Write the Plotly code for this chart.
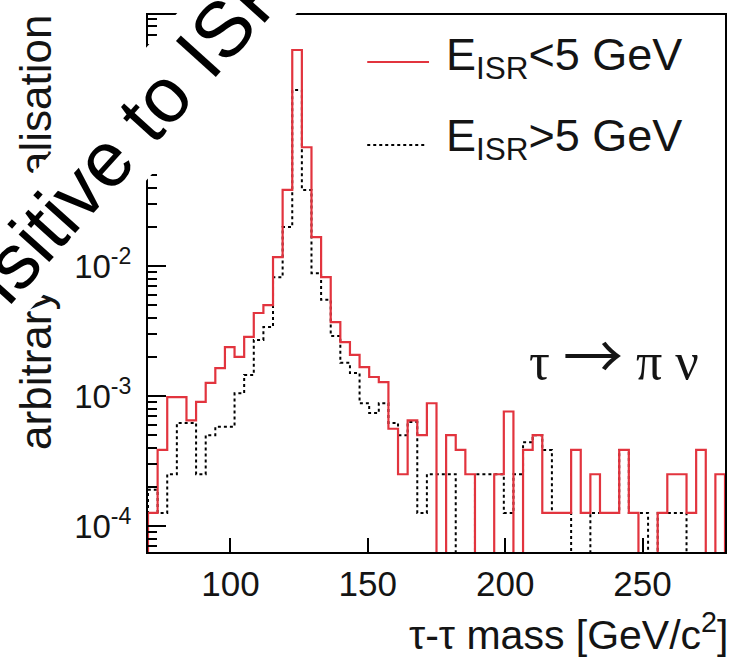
import plotly.graph_objects as go

# ---------------- data ----------------
bin_low = 70.0
bin_width = 3.5
n_bins = 60
mass_edges = [bin_low + bin_width * i for i in range(n_bins + 1)]

# E_ISR < 5 GeV  (solid red)
isr_low = [1.26e-4, 3.85e-4, 9.8e-4, 9.8e-4, 6.5e-4, 9.0e-4, 1.26e-3, 1.64e-3, 2.38e-3, 2.0e-3,
           2.85e-3, 4.35e-3, 5.0e-3, 1.17e-2, 3.85e-2, 0.459, 0.082, 1.67e-2, 8.2e-3, 3.7e-3,
           2.6e-3, 2.07e-3, 1.67e-3, 1.4e-3, 1.28e-3, 5.6e-4, 2.5e-4, 6.5e-4, 5.0e-4, 8.8e-4,
           0, 5.0e-4, 3.85e-4, 2.5e-4, 0, 0, 2.5e-4, 7.6e-4, 0, 3.85e-4,
           5.0e-4, 1.26e-4, 1.26e-4, 1.26e-4, 3.85e-4, 1.26e-4, 2.5e-4, 1.26e-4, 1.26e-4, 3.85e-4,
           1.26e-4, 0, 0, 1.26e-4, 2.5e-4, 2.5e-4, 1.26e-4, 3.85e-4, 0, 2.5e-4]

# E_ISR > 5 GeV  (dotted black)
isr_high = [1.9e-4, 1.26e-4, 2.5e-4, 6.2e-4, 6.2e-4, 2.5e-4, 5.0e-4, 5.8e-4, 5.8e-4, 1.05e-3,
            1.45e-3, 2.7e-3, 3.4e-3, 8.2e-3, 2.0e-2, 0.226, 3.85e-2, 8.8e-3, 5.5e-3, 2.9e-3,
            1.8e-3, 1.5e-3, 8.8e-4, 7.4e-4, 8.8e-4, 6.2e-4, 5.0e-4, 6.3e-4, 1.26e-4, 2.5e-4,
            2.5e-4, 2.5e-4, 0, 0, 2.5e-4, 2.5e-4, 2.5e-4, 1.26e-4, 2.5e-4, 4.4e-4,
            5.0e-4, 3.85e-4, 1.26e-4, 1.26e-4, 0, 0, 1.26e-4, 1.26e-4, 1.26e-4, 3.85e-4,
            1.26e-4, 1.26e-4, 0, 1.26e-4, 1.26e-4, 1.26e-4, 0, 0, 0, 0]

x_ticks = [100, 150, 200, 250]
y_ticks = [1e-4, 1e-3, 1e-2, 1e-1]
y_ticktext = ["10<sup>-4</sup>", "10<sup>-3</sup>", "10<sup>-2</sup>", "10<sup>-1</sup>"]
legend_labels = ["E<sub>ISR</sub>&lt;5 GeV", "E<sub>ISR</sub>&gt;5 GeV"]
x_title = "τ-τ mass [GeV/c<sup>2</sup>]"
y_title = "arbitrary normalisation"
channel_label = "τ <span style='font-family:Noto Sans CJK JP;font-size:60px'>→</span> π ν"
overlay_label = "Sensitive to ISR"

# ---------------- helpers ----------------
FLOOR = 1e-7  # empty bins drop below the axis like ROOT


def outline(vals):
    xs = [mass_edges[0]] + mass_edges[:-1] + [mass_edges[-1], mass_edges[-1]]
    v = [max(a, FLOOR) for a in vals]
    ys = [FLOOR] + v + [v[-1], FLOOR]
    return xs, ys


RED = "rgb(226,52,62)"
INK = "#141414"
SANS = "Liberation Sans, Arial, Helvetica, sans-serif"
SERIF = "Liberation Serif, Times New Roman, serif"

W, H = 732, 657
L, R, T, B = 148, 5, 15, 105
PW, PH = W - L - R, H - T - B


def px(xp):
    return (xp - L) / PW


def py(yp):
    return (H - B - yp) / PH


y_range = [-4.2, -0.069]

fig = go.Figure()
xb, yb = outline(isr_high)
fig.add_trace(go.Scatter(x=xb, y=yb, mode="lines", line=dict(color="black", width=2, dash="dot", shape="hv"),
                         showlegend=False, hoverinfo="skip"))
xr, yr = outline(isr_low)
fig.add_trace(go.Scatter(x=xr, y=yr, mode="lines", line=dict(color=RED, width=2.2, shape="hv"),
                         showlegend=False, hoverinfo="skip"))
# carrier trace for the minor-tick axis
fig.add_trace(go.Scatter(x=[mass_edges[0]], y=[1e-3], yaxis="y2", mode="markers",
                         marker=dict(opacity=0), showlegend=False, hoverinfo="skip"))

minor_vals = [k * 10.0 ** d for d in range(-5, 0) for k in range(2, 10)]

fig.update_layout(
    width=W, height=H,
    margin=dict(l=L, r=R, t=T, b=B, pad=0),
    paper_bgcolor="white", plot_bgcolor="white",
    font=dict(family=SANS, color=INK),
    xaxis=dict(range=[mass_edges[0], mass_edges[-1]], tickvals=x_ticks, ticks="inside", ticklen=14,
               tickwidth=2, tickcolor="black", showline=True, linewidth=2, linecolor="black",
               mirror=True, showgrid=False, zeroline=False, tickfont=dict(size=35, family=SANS, color=INK)),
    yaxis=dict(type="log", range=y_range, tickvals=y_ticks, ticktext=y_ticktext, ticks="inside",
               ticklen=18, tickwidth=2, tickcolor="black", showline=True, linewidth=2, linecolor="black",
               mirror=True, showgrid=False, zeroline=False, ticklabelstandoff=8,
               tickfont=dict(size=33, family=SANS, color=INK)),
    yaxis2=dict(type="log", range=y_range, overlaying="y", side="left", tickvals=minor_vals,
                ticks="inside", ticklen=9, tickwidth=1.5, tickcolor="black", showticklabels=False,
                showline=False, showgrid=False, zeroline=False),
)

ann = []
ann.append(dict(text=y_title, textangle=-90, xref="paper", yref="paper", x=px(35), y=py(13),
                xanchor="center", yanchor="top", showarrow=False, font=dict(size=44, family=SANS, color=INK)))
ann.append(dict(text=x_title, xref="paper", yref="paper", x=px(731), y=py(632), xanchor="right",
                yanchor="middle", showarrow=False, borderpad=0, font=dict(size=41, family=SANS, color=INK)))
for lab, ypix in zip(legend_labels, [57, 138]):
    ann.append(dict(text=lab, xref="paper", yref="paper", x=px(445), y=py(ypix), xanchor="left",
                    yanchor="middle", showarrow=False, font=dict(size=45, family=SANS, color=INK)))
ann.append(dict(text=channel_label, xref="paper", yref="paper", x=px(616), y=py(352), xanchor="center",
                yanchor="middle", showarrow=False, font=dict(size=52, family=SERIF, color=INK)))
ann.append(dict(text=overlay_label, textangle=-48, xref="paper", yref="paper", x=px(92), y=py(174),
                xanchor="center", yanchor="middle", showarrow=False, bgcolor="white", borderpad=0,
                font=dict(size=78, family=SANS, color="black")))
fig.update_layout(annotations=ann)

fig.add_shape(type="line", xref="paper", yref="paper", x0=px(368), x1=px(430), y0=py(62), y1=py(62),
              line=dict(color=RED, width=2.2))
fig.add_shape(type="line", xref="paper", yref="paper", x0=px(368), x1=px(428), y0=py(145), y1=py(145),
              line=dict(color="black", width=2, dash="dot"))

fig.write_html("out.html")
